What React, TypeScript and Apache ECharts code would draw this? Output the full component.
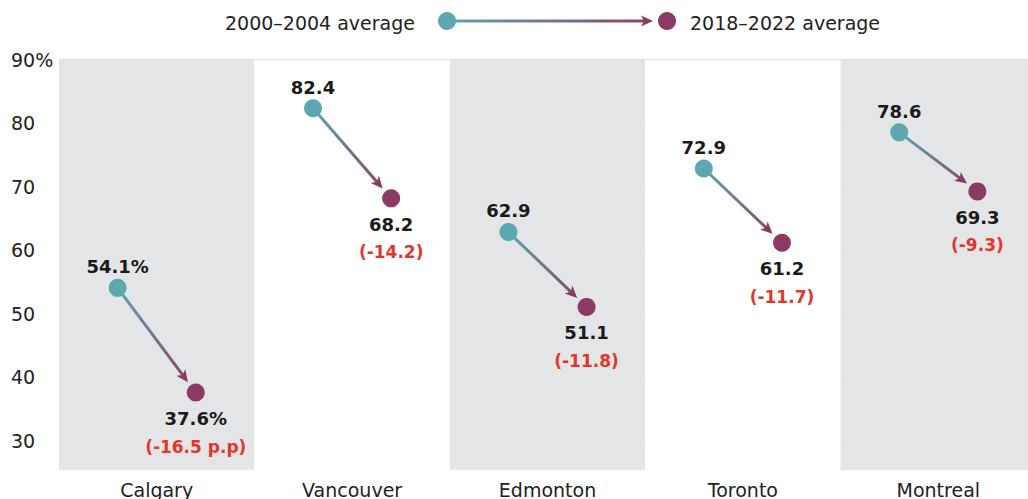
import React, { useEffect, useRef } from "react";
import * as echarts from "echarts";

const categories = ["Calgary", "Vancouver", "Edmonton", "Toronto", "Montreal"];
const avg2000 = [54.1, 82.4, 62.9, 72.9, 78.6];
const avg2018 = [37.6, 68.2, 51.1, 61.2, 69.3];
const changes = [-16.5, -14.2, -11.8, -11.7, -9.3];
const legendStart = "2000\u20132004 average";
const legendEnd = "2018\u20132022 average";

const TEAL = "#5ea7b0";
const MAROON = "#8b3a64";
const RED = "#e2362c";
const FONT = "'DejaVu Sans', 'Noto Sans', sans-serif";

export default function App() {
  const ref = useRef<HTMLDivElement>(null);
  useEffect(() => {
    if (!ref.current) return;
    const chart = echarts.init(ref.current, undefined, { renderer: "svg" });
    const data = categories.map((c, i) => [i, avg2000[i], avg2018[i], changes[i]]);

    const renderItem = (params: any, api: any) => {
      const i = api.value(0);
      const s = api.value(1);
      const e = api.value(2);
      const ch = api.value(3);
      const bw = api.size([1, 0])[0];
      const p0 = api.coord([i, s]);
      const p1 = api.coord([i, e]);
      const x0 = p0[0] - bw * 0.2;
      const y0 = p0[1];
      const x1 = p1[0] + bw * 0.2;
      const y1 = p1[1];
      const dx = x1 - x0;
      const dy = y1 - y0;
      const len = Math.sqrt(dx * dx + dy * dy);
      const ux = dx / len;
      const uy = dy / len;
      const r = 9;
      const tipX = x1 - ux * (r + 4);
      const tipY = y1 - uy * (r + 4);
      const hl = 12;
      const hw = 5.5;
      const bx = tipX - ux * hl;
      const by = tipY - uy * hl;
      const first = i === 0;
      const sLabel = s.toFixed(1) + (first ? "%" : "");
      const eLabel = e.toFixed(1) + (first ? "%" : "");
      const cLabel = "(" + ch.toFixed(1) + (first ? " p.p" : "") + ")";
      return {
        type: "group",
        children: [
          {
            type: "line",
            shape: { x1: x0, y1: y0, x2: tipX - ux * 4, y2: tipY - uy * 4 },
            style: {
              stroke: new echarts.graphic.LinearGradient(
                x0, y0, x1, y1,
                [
                  { offset: 0, color: TEAL },
                  { offset: 1, color: MAROON },
                ],
                true
              ),
              lineWidth: 3,
            },
          },
          {
            type: "polygon",
            shape: {
              points: [
                [tipX, tipY],
                [bx - uy * hw, by + ux * hw],
                [bx + ux * 3, by + uy * 3],
                [bx + uy * hw, by - ux * hw],
              ],
            },
            style: { fill: MAROON },
          },
          { type: "circle", shape: { cx: x0, cy: y0, r }, style: { fill: TEAL } },
          { type: "circle", shape: { cx: x1, cy: y1, r }, style: { fill: MAROON } },
          {
            type: "text",
            style: {
              text: sLabel, x: x0, y: y0 - 21, align: "center", verticalAlign: "middle",
              fill: "#1a1a1a", fontSize: 18, fontWeight: "bold", fontFamily: FONT,
            },
          },
          {
            type: "text",
            style: {
              text: eLabel, x: x1, y: y1 + 26, align: "center", verticalAlign: "middle",
              fill: "#1a1a1a", fontSize: 18, fontWeight: "bold", fontFamily: FONT,
            },
          },
          {
            type: "text",
            style: {
              text: cLabel, x: x1, y: y1 + 54, align: "center", verticalAlign: "middle",
              fill: RED, fontSize: 17, fontWeight: "bold", fontFamily: FONT,
            },
          },
        ],
      };
    };

    chart.setOption({
      animation: false,
      grid: { left: 59, right: -8, top: 60, bottom: 29, outerBoundsMode: "none" },
      xAxis: {
        type: "category",
        data: categories,
        boundaryGap: true,
        axisLine: { show: false },
        axisTick: { show: false },
        axisLabel: { fontSize: 19, color: "#222", margin: 10, fontFamily: FONT, interval: 0 },
        splitArea: { show: true, interval: 0, areaStyle: { color: ["#e4e5e7", "#ffffff"] } },
      },
      yAxis: {
        type: "value",
        min: 25.4,
        max: 90,
        axisLine: { show: false },
        axisTick: { show: false },
        axisLabel: {
          align: "left",
          margin: 48,
          fontSize: 19,
          color: "#222",
          fontFamily: FONT,
          showMinLabel: false,
          formatter: (v: number) =>
            Math.abs(v % 10) < 1e-6 ? (v === 90 ? "90%" : String(v)) : "",
        },
        splitLine: { show: true, showMinLine: false, lineStyle: { color: "#d6d6d6", width: 1.5 } },
      },
      graphic: [
        {
          type: "text",
          x: 415,
          y: 23,
          style: {
            text: legendStart, align: "right", verticalAlign: "middle",
            fill: "#222", fontSize: 19, fontFamily: FONT,
          },
        },
        {
          type: "line",
          shape: { x1: 447, y1: 21, x2: 648, y2: 21 },
          style: {
            stroke: new echarts.graphic.LinearGradient(447, 21, 667, 21, [
              { offset: 0, color: TEAL },
              { offset: 1, color: MAROON },
            ], true),
            lineWidth: 3,
          },
        },
        {
          type: "polygon",
          shape: { points: [[653, 21], [641, 15.5], [644, 21], [641, 26.5]] },
          style: { fill: MAROON },
        },
        { type: "circle", shape: { cx: 447, cy: 21, r: 9 }, style: { fill: TEAL } },
        { type: "circle", shape: { cx: 667, cy: 21, r: 9 }, style: { fill: MAROON } },
        {
          type: "text",
          x: 690,
          y: 23,
          style: {
            text: legendEnd, align: "left", verticalAlign: "middle",
            fill: "#222", fontSize: 19, fontFamily: FONT,
          },
        },
      ],
      series: [
        {
          type: "custom",
          renderItem,
          data,
          z: 10,
          clip: false,
        },
      ],
    });
    return () => chart.dispose();
  }, []);
  return (
    <div
      ref={ref}
      style={{ position: "absolute", left: 0, top: 0, width: 1028, height: 499 }}
    />
  );
}
